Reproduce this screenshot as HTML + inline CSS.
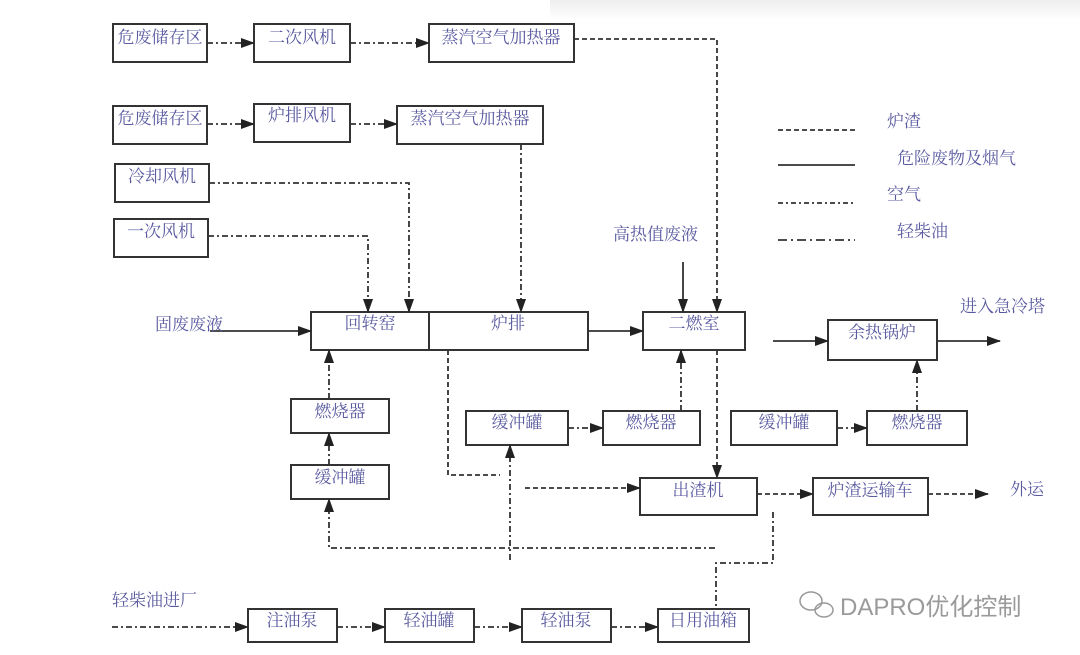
<!DOCTYPE html>
<html><head><meta charset="utf-8"><style>
html,body{margin:0;padding:0;background:#fff;}
svg{display:block}
text{font-family:"Liberation Serif","Noto Serif CJK SC","Noto Sans CJK SC",serif;font-size:17px;fill:#5a5aa0}
</style></head><body>
<svg width="1080" height="655" viewBox="0 0 1080 655" xmlns="http://www.w3.org/2000/svg">
<defs>
<marker id="a" markerWidth="14" markerHeight="10" refX="13" refY="5" orient="auto" markerUnits="userSpaceOnUse">
<path d="M0,0 L14,5 L0,10 Z" fill="#222"/></marker>
<linearGradient id="g" x1="0" y1="0" x2="0" y2="1">
<stop offset="0" stop-color="#eeeeee"/><stop offset="1" stop-color="#ffffff"/></linearGradient>
</defs>
<rect width="1080" height="655" fill="#fff"/>
<rect x="550" y="0" width="530" height="20" fill="url(#g)"/>
<g fill="none" stroke="#333" stroke-width="2">
<rect x="113" y="24" width="94" height="38"/>
<rect x="254" y="24" width="96" height="38"/>
<rect x="429" y="24" width="145" height="38"/>
<rect x="113" y="106" width="94" height="38"/>
<rect x="254" y="104" width="96" height="38"/>
<rect x="397" y="106" width="146" height="38"/>
<rect x="115" y="164" width="94" height="38"/>
<rect x="114" y="219" width="94" height="38"/>
<rect x="311" y="312" width="277" height="38"/>
<line x1="429" y1="312" x2="429" y2="350"/>
<rect x="643" y="312" width="102" height="38"/>
<rect x="828" y="320" width="109" height="40"/>
<rect x="291" y="399" width="98" height="34"/>
<rect x="291" y="465" width="98" height="34"/>
<rect x="466" y="411" width="102" height="34"/>
<rect x="603" y="411" width="97" height="34"/>
<rect x="731" y="411" width="106" height="34"/>
<rect x="867" y="411" width="100" height="34"/>
<rect x="640" y="478" width="117" height="37"/>
<rect x="813" y="478" width="115" height="37"/>
<rect x="248" y="609" width="89" height="33"/>
<rect x="385" y="609" width="89" height="33"/>
<rect x="522" y="609" width="89" height="33"/>
<rect x="658" y="609" width="91" height="33"/>
</g>
<g fill="none" stroke="#333" stroke-width="1.8">
<g stroke-dasharray="6,3,2,3">
<line x1="207" y1="43" x2="254" y2="43" marker-end="url(#a)"/>
<line x1="350" y1="43" x2="429" y2="43" marker-end="url(#a)"/>
<line x1="207" y1="124" x2="254" y2="124" marker-end="url(#a)"/>
<line x1="350" y1="124" x2="397" y2="124" marker-end="url(#a)"/>
<polyline points="209,183 409,183 409,312" marker-end="url(#a)"/>
<polyline points="208,236 368,236 368,312" marker-end="url(#a)"/>
<line x1="521" y1="144" x2="521" y2="312" marker-end="url(#a)"/>
<line x1="329" y1="399" x2="329" y2="350" marker-end="url(#a)"/>
<line x1="329" y1="465" x2="329" y2="433" marker-end="url(#a)"/>
<polyline points="715,548 329,548 329,499" marker-end="url(#a)"/>
<line x1="510" y1="560" x2="510" y2="445" marker-end="url(#a)"/>
<line x1="681" y1="411" x2="681" y2="350" marker-end="url(#a)"/>
<line x1="917" y1="411" x2="917" y2="360" marker-end="url(#a)"/>
<polyline points="773,512 773,563 716,563 716,609"/>
<line x1="112" y1="627" x2="248" y2="627" marker-end="url(#a)"/>
<line x1="337" y1="627" x2="385" y2="627" marker-end="url(#a)"/>
<line x1="474" y1="627" x2="522" y2="627" marker-end="url(#a)"/>
<line x1="611" y1="627" x2="658" y2="627" marker-end="url(#a)"/>
<line x1="568" y1="428" x2="603" y2="428" marker-end="url(#a)"/>
<line x1="837" y1="428" x2="867" y2="428" marker-end="url(#a)"/>
</g>
<g stroke-dasharray="5,3">
<polyline points="574,39 717,39 717,312" marker-end="url(#a)"/>
<line x1="717" y1="350" x2="717" y2="478" marker-end="url(#a)"/>
<polyline points="448,350 448,475 500,475"/>
<line x1="525" y1="488" x2="640" y2="488" marker-end="url(#a)"/>
<line x1="757" y1="494" x2="813" y2="494" marker-end="url(#a)"/>
<line x1="928" y1="494" x2="988" y2="494" marker-end="url(#a)"/>
</g>
<line x1="210" y1="331" x2="311" y2="331" marker-end="url(#a)"/>
<line x1="588" y1="331" x2="643" y2="331" marker-end="url(#a)"/>
<line x1="683" y1="262" x2="683" y2="312" marker-end="url(#a)"/>
<line x1="773" y1="341" x2="828" y2="341" marker-end="url(#a)"/>
<line x1="937" y1="341" x2="1000" y2="341" marker-end="url(#a)"/>
<line x1="778" y1="130" x2="855" y2="130" stroke-dasharray="5,3"/>
<line x1="778" y1="165" x2="855" y2="165"/>
<line x1="778" y1="203" x2="855" y2="203" stroke-dasharray="5,3,2,3"/>
<line x1="778" y1="240" x2="855" y2="240" stroke-dasharray="9,4,2,4"/>
</g>
<g text-anchor="middle">
<text x="160" y="43">危废储存区</text>
<text x="302" y="43">二次风机</text>
<text x="501" y="43">蒸汽空气加热器</text>
<text x="160" y="124">危废储存区</text>
<text x="302" y="121">炉排风机</text>
<text x="470" y="124">蒸汽空气加热器</text>
<text x="162" y="182">冷却风机</text>
<text x="161" y="237">一次风机</text>
<text x="370" y="329">回转窑</text>
<text x="508" y="329">炉排</text>
<text x="694" y="329">二燃室</text>
<text x="882" y="338">余热锅炉</text>
<text x="340" y="417">燃烧器</text>
<text x="340" y="483">缓冲罐</text>
<text x="517" y="428">缓冲罐</text>
<text x="651" y="428">燃烧器</text>
<text x="784" y="428">缓冲罐</text>
<text x="917" y="428">燃烧器</text>
<text x="698" y="496">出渣机</text>
<text x="870" y="496">炉渣运输车</text>
<text x="292" y="626">注油泵</text>
<text x="429" y="626">轻油罐</text>
<text x="566" y="626">轻油泵</text>
<text x="703" y="626">日用油箱</text>
</g>
<text x="155" y="330">固废废液</text>
<text x="613" y="240">高热值废液</text>
<text x="960" y="312">进入急冷塔</text>
<text x="1010" y="495">外运</text>
<text x="112" y="606">轻柴油进厂</text>
<text x="887" y="127">炉渣</text>
<text x="897" y="164">危险废物及烟气</text>
<text x="887" y="200">空气</text>
<text x="897" y="237">轻柴油</text>
<g fill="none" stroke="#999" stroke-width="1.5">
<ellipse cx="811" cy="601" rx="11" ry="9"/>
<ellipse cx="824" cy="610" rx="9" ry="7"/>
</g>
<text x="840" y="615" style="font-family:'Liberation Sans','Noto Sans CJK SC',sans-serif;font-size:24px;fill:#9a9a9a">DAPRO优化控制</text>
</svg>
</body></html>
